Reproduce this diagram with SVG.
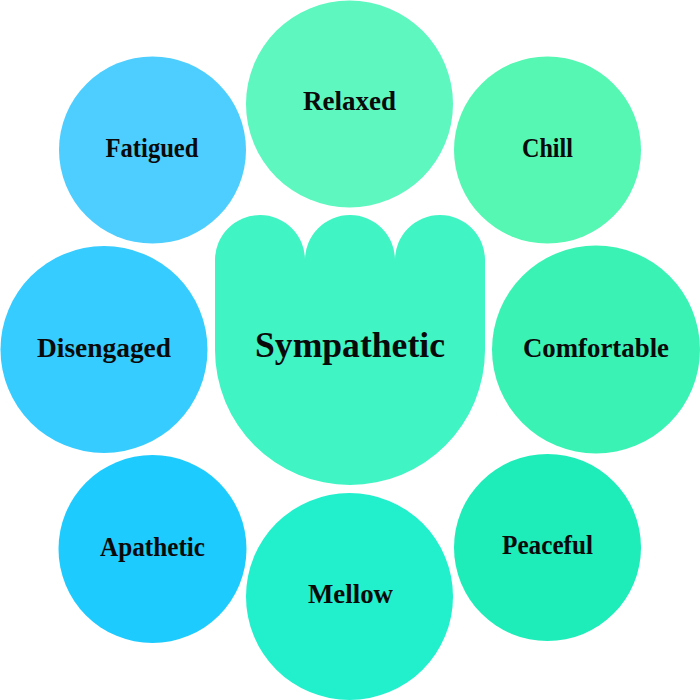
<svg xmlns="http://www.w3.org/2000/svg" width="700" height="700" viewBox="0 0 700 700">
<style>
text{font-family:"Liberation Serif","Times New Roman",serif;font-weight:bold;fill:#0a0a0a;text-anchor:middle}
.lbl{font-size:27px}
.main{font-size:35px}
</style>
<rect width="700" height="700" fill="#ffffff"/>
<g id="connectors"></g>
<g id="fatigued"><circle cx="152.5" cy="150" r="93.5" fill="#4ECEFF"/><text class="lbl" x="152" y="157" textLength="93" lengthAdjust="spacingAndGlyphs">Fatigued</text></g>
<g id="relaxed"><circle cx="349.5" cy="104" r="103.5" fill="#5EF7C0"/><text class="lbl" x="349.5" y="110" textLength="93" lengthAdjust="spacingAndGlyphs">Relaxed</text></g>
<g id="chill"><circle cx="547.5" cy="150" r="93.5" fill="#55F7B3"/><text class="lbl" x="547.5" y="157" textLength="51" lengthAdjust="spacingAndGlyphs">Chill</text></g>
<g id="disengaged"><circle cx="104" cy="349.5" r="103.5" fill="#36CCFF"/><text class="lbl" x="104" y="357" textLength="134" lengthAdjust="spacingAndGlyphs">Disengaged</text></g>
<g id="sympathetic"><path d="M215,260 A45,45 0 0 1 305,260 A45,45 0 0 1 395,260 A45,45 0 0 1 485,260 L485,350 A135,135 0 0 1 215,350 Z" fill="#40F4C4"/><text class="main" x="350" y="357" textLength="190" lengthAdjust="spacingAndGlyphs">Sympathetic</text></g>
<g id="comfortable"><circle cx="596" cy="349.5" r="104" fill="#3BF2B5"/><text class="lbl" x="596" y="357" textLength="146" lengthAdjust="spacingAndGlyphs">Comfortable</text></g>
<g id="apathetic"><circle cx="152.5" cy="549" r="94" fill="#1ECBFF"/><text class="lbl" x="152.5" y="556" textLength="105" lengthAdjust="spacingAndGlyphs">Apathetic</text></g>
<g id="mellow"><circle cx="349.5" cy="596.5" r="103.5" fill="#22EFCC"/><text class="lbl" x="350.5" y="603" textLength="85" lengthAdjust="spacingAndGlyphs">Mellow</text></g>
<g id="peaceful"><circle cx="547.5" cy="547.5" r="93.5" fill="#1EEDB9"/><text class="lbl" x="547.5" y="554" textLength="91" lengthAdjust="spacingAndGlyphs">Peaceful</text></g>
</svg>
